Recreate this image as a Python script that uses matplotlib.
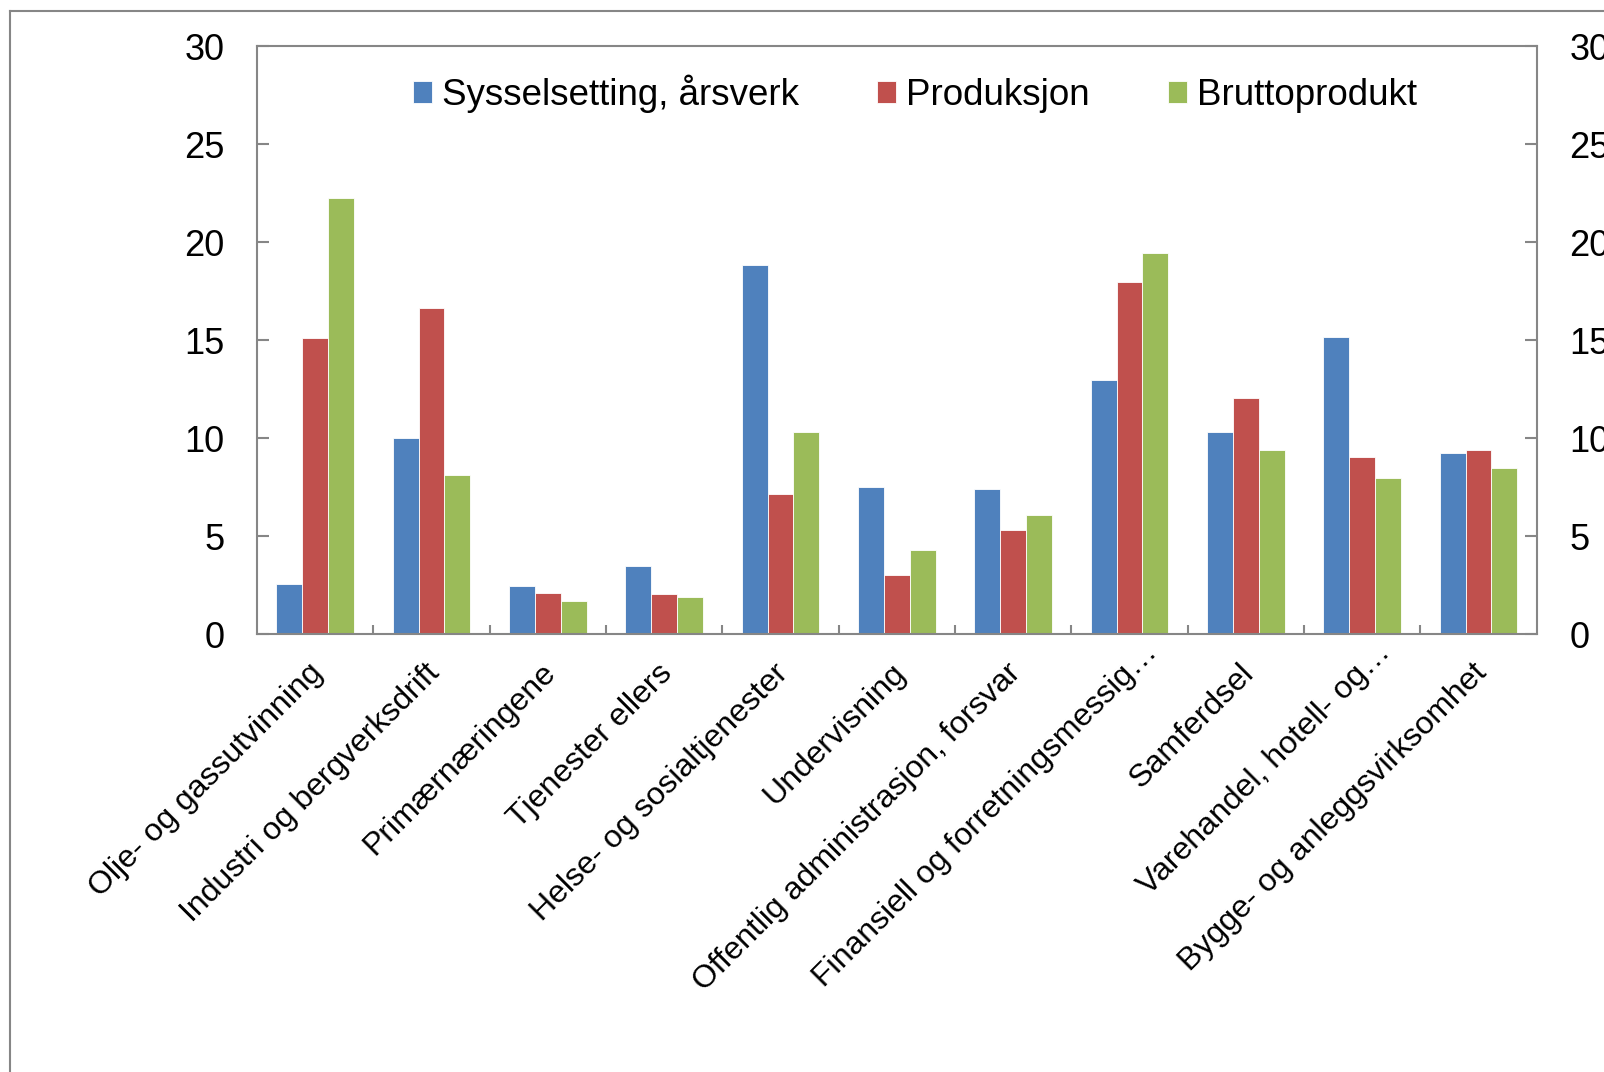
import numpy as np
import matplotlib
matplotlib.use('Agg')
import matplotlib.pyplot as plt
import matplotlib.transforms as mtransforms
from matplotlib.lines import Line2D

plt.rcParams['font.family'] = ['Liberation Sans', 'DejaVu Sans']

# Data
categories = ['Olje- og gassutvinning', 'Industri og bergverksdrift', 'Primærnæringene',
              'Tjenester ellers', 'Helse- og sosialtjenester', 'Undervisning',
              'Offentlig administrasjon, forsvar', 'Finansiell og forretningsmessig…',
              'Samferdsel', 'Varehandel, hotell- og…', 'Bygge- og anleggsvirksomhet']
sysselsetting = [2.55, 10.03, 2.46, 3.47, 18.83, 7.5, 7.43, 12.97, 10.32, 15.15, 9.23]
produksjon = [15.13, 16.66, 2.12, 2.04, 7.14, 3.01, 5.34, 17.99, 12.04, 9.05, 9.42]
bruttoprodukt = [22.24, 8.11, 1.68, 1.92, 10.32, 4.3, 6.09, 19.42, 9.4, 7.97, 8.48]
series_names = ['Sysselsetting, årsverk', 'Produksjon', 'Bruttoprodukt']
colors = ['#4F81BD', '#C0504D', '#9BBB59']
yticks = [0, 5, 10, 15, 20, 25, 30]

W, H = 1604, 1072
fig = plt.figure(figsize=(W / 100, H / 100), dpi=100)
ax = fig.add_axes([257 / W, 1 - 634.3 / H, (1536.7 - 257) / W, (634.3 - 46) / H])

x = np.arange(len(categories))
w = 0.222
for k, (vals, name, c) in enumerate(zip([sysselsetting, produksjon, bruttoprodukt], series_names, colors)):
    ax.bar(x + (k - 1) * w, vals, width=w, color=c, label=name,
           edgecolor='white', linewidth=0.6)

ax.set_xlim(-0.5, len(categories) - 0.5)
ax.set_ylim(0, 30)
ax.set_yticks(yticks)

spine_col = '#868686'
for s in ax.spines.values():
    s.set_color(spine_col)
    s.set_linewidth(1.5)

ax.tick_params(axis='y', direction='in', length=8.5, width=1.5, color=spine_col,
               labelsize=26, pad=23.5, left=True, right=True, labelleft=True, labelright=True)
ax.set_xticks(x)
ax.set_xticks(np.arange(0.5, len(categories) - 0.5, 1), minor=True)
ax.tick_params(axis='x', which='major', length=0, labelsize=23, pad=17)
ax.tick_params(axis='x', which='minor', direction='in', length=6.5, width=1.5, color=spine_col)
ax.set_xticklabels(categories, rotation=45, ha='right', va='top', rotation_mode='anchor')
# truncated labels sit a bit further up-right in the original
for lab in ax.get_xticklabels():
    dx, dy = (-7, 0)
    if lab.get_text().endswith('…'):
        dx, dy = (13, 21)
    lab.set_transform(lab.get_transform() +
                      mtransforms.ScaledTranslation(dx / 100, dy / 100, fig.dpi_scale_trans))

fig.legend(loc='center', bbox_to_anchor=(915 / W, 1 - 94 / H), ncol=3, frameon=False,
           fontsize=26.5, handlelength=0.52, handleheight=0.52, handletextpad=0.27,
           columnspacing=2.12, borderpad=0)

# outer chart frame (cut at right and bottom edge)
fig.add_artist(Line2D([10 / W, 10 / W], [0, 1 - 11 / H], transform=fig.transFigure,
                      color=spine_col, linewidth=1.5))
fig.add_artist(Line2D([10 / W, 1], [1 - 11 / H, 1 - 11 / H], transform=fig.transFigure,
                      color=spine_col, linewidth=1.5))

fig.savefig('out.png', dpi=100)
